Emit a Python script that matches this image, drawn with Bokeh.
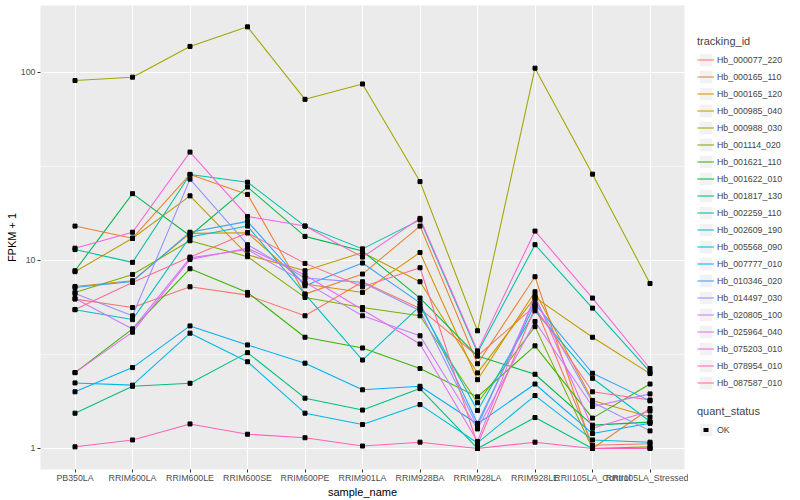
from bokeh.plotting import figure
from bokeh.models import Range1d, FixedTicker, Legend, LegendItem, PrintfTickFormatter
from bokeh.layouts import row
from bokeh.embed import file_html
from bokeh.resources import INLINE

samples = ["PB350LA", "RRIM600LA", "RRIM600LE", "RRIM600SE", "RRIM600PE", "RRIM901LA",
           "RRIM928BA", "RRIM928LA", "RRIM928LE", "RRII105LA_Control", "RRII105LA_Stressed"]

tracking_ids = ["Hb_000077_220", "Hb_000165_110", "Hb_000165_120", "Hb_000985_040",
                "Hb_000988_030", "Hb_001114_020", "Hb_001621_110", "Hb_001622_010",
                "Hb_001817_130", "Hb_002259_110", "Hb_002609_190", "Hb_005568_090",
                "Hb_007777_010", "Hb_010346_020", "Hb_014497_030", "Hb_020805_100",
                "Hb_025964_040", "Hb_075203_010", "Hb_078954_010", "Hb_087587_010"]

# FPKM + 1 per sample
hb_000077_220 = [6.22, 5.61, 7.23, 6.53, 5.07, 7.69, 5.54, 3.10, 5.73, 1.04, 1.06]
hb_000165_110 = [15.2, 13.1, 28.6, 22.4, 6.61, 8.45, 15.2, 2.82, 8.18, 1.00, 1.63]
hb_000165_120 = [7.26, 7.79, 13.9, 14.0, 7.48, 6.75, 11.0, 2.32, 6.80, 1.80, 1.47]
hb_000985_040 = [8.70, 13.1, 22.0, 10.7, 8.80, 11.0, 7.69, 2.52, 6.35, 3.90, 2.50]
hb_000988_030 = [90.2, 94.0, 137.0, 174.0, 71.7, 86.5, 26.2, 4.22, 105.0, 28.7, 7.53]
hb_001114_020 = [6.75, 8.41, 12.7, 10.45, 6.35, 5.61, 5.07, 1.75, 4.44, 1.00, 1.02]
hb_001621_110 = [2.53, 4.32, 9.02, 6.75, 3.90, 3.42, 2.66, 1.88, 3.51, 1.45, 2.20]
hb_001622_010 = [8.80, 22.6, 13.5, 24.5, 13.4, 11.2, 6.30, 3.10, 2.48, 1.33, 1.38]
hb_001817_130 = [1.54, 2.14, 2.22, 3.23, 1.85, 1.60, 2.08, 1.00, 1.46, 1.00, 1.00]
hb_002259_110 = [11.4, 9.75, 28.6, 26.0, 15.2, 11.5, 16.4, 3.23, 12.1, 5.57, 2.55]
hb_002609_190 = [5.46, 4.84, 13.3, 15.2, 6.61, 2.95, 5.71, 1.59, 5.39, 2.36, 1.39]
hb_005568_090 = [2.23, 2.17, 4.10, 2.89, 1.54, 1.34, 1.71, 1.07, 1.91, 1.11, 1.08]
hb_007777_010 = [2.00, 2.69, 4.48, 3.55, 2.84, 2.05, 2.14, 1.35, 2.20, 1.20, 1.36]
hb_010346_020 = [7.17, 7.72, 14.1, 16.1, 7.32, 9.67, 5.94, 1.36, 5.87, 2.51, 1.79]
hb_014497_030 = [6.66, 5.07, 27.0, 12.1, 8.05, 7.63, 5.39, 1.31, 6.22, 1.76, 1.24]
hb_020805_100 = [6.27, 4.31, 10.3, 11.4, 7.63, 5.07, 3.97, 1.27, 4.73, 1.67, 1.95]
hb_025964_040 = [2.53, 4.15, 10.1, 11.6, 8.35, 5.46, 3.59, 1.09, 6.48, 1.28, 1.58]
hb_075203_010 = [11.6, 14.1, 37.6, 17.1, 15.2, 10.4, 16.7, 3.30, 14.3, 6.30, 2.66]
hb_078954_010 = [1.02, 1.11, 1.35, 1.19, 1.14, 1.03, 1.08, 1.00, 1.08, 1.00, 1.00]
hb_087587_010 = [5.48, 7.63, 10.4, 14.0, 9.63, 7.23, 9.13, 1.045, 5.61, 2.00, 1.81]

series = [hb_000077_220, hb_000165_110, hb_000165_120, hb_000985_040, hb_000988_030,
          hb_001114_020, hb_001621_110, hb_001622_010, hb_001817_130, hb_002259_110,
          hb_002609_190, hb_005568_090, hb_007777_010, hb_010346_020, hb_014497_030,
          hb_020805_100, hb_025964_040, hb_075203_010, hb_078954_010, hb_087587_010]

colors = ["#F8766D", "#EA8331", "#D89000", "#C09B00", "#A3A500", "#7CAE00", "#39B600",
          "#00BB4E", "#00BF7D", "#00C1A3", "#00BFC4", "#00BAE0", "#00B0F6", "#35A2FF",
          "#9590FF", "#C77CFF", "#E76BF3", "#FA62DB", "#FF62BC", "#FF6C91"]

quant_status = ["OK"]
y_ticks = [1, 10, 100]

FONT = "Liberation Sans"
xs = list(range(1, len(samples) + 1))

p = figure(width=688, height=500, x_range=Range1d(0.4, 11.6), y_range=Range1d(0.773, 226),
           y_axis_type="log", output_backend="svg", toolbar_location=None,
           min_border_left=40, min_border_right=4, min_border_top=5, min_border_bottom=31,
           background_fill_color="#EBEBEB", border_fill_color="white", outline_line_color=None)

xticker = FixedTicker(ticks=xs)
yticker = FixedTicker(ticks=y_ticks, minor_ticks=[10 ** 0.5, 10 ** 1.5, 10 ** 2.5])
p.xaxis.ticker = xticker
p.yaxis.ticker = yticker
p.xgrid.ticker = xticker
p.ygrid.ticker = yticker
p.xaxis.major_label_overrides = {x: s for x, s in zip(xs, samples)}
p.yaxis.formatter = PrintfTickFormatter(format="%d")

for ax in (p.xaxis[0], p.yaxis[0]):
    ax.axis_line_color = None
    ax.major_tick_line_color = "#333333"
    ax.major_tick_in = 0
    ax.major_tick_out = 3
    ax.minor_tick_line_color = None
    ax.major_label_text_color = "#4D4D4D"
    ax.major_label_text_font = FONT
    ax.major_label_text_font_size = "8.8px"
    ax.major_label_standoff = 1
    ax.axis_label_text_font = FONT
    ax.axis_label_text_font_size = "11px"
    ax.axis_label_text_font_style = "normal"
    ax.axis_label_text_color = "black"
    ax.axis_label_standoff = 0
p.xaxis.major_label_standoff = 0
p.xaxis.axis_label = "sample_name"
p.yaxis.axis_label = "FPKM + 1"

p.xgrid.grid_line_color = "white"
p.xgrid.grid_line_width = 1.07
p.ygrid.grid_line_color = "white"
p.ygrid.grid_line_width = 1.07
p.ygrid.minor_grid_line_color = "white"
p.ygrid.minor_grid_line_width = 0.53

for vals, c in zip(series, colors):
    p.line(xs, vals, line_color=c, line_width=1.07)
for vals in series:
    p.scatter(xs, vals, marker="square", size=4, color="black")

# legend panel (its renderers hold one point outside the visible range)
p2 = figure(width=112, height=500, output_backend="svg", toolbar_location=None,
            x_axis_location=None, y_axis_location=None, min_border=0,
            outline_line_color=None, x_range=Range1d(0, 1), y_range=Range1d(0, 1))
p2.grid.visible = False

items = []
for tid, c in zip(tracking_ids, colors):
    bg = p2.quad(left=[5], right=[6], top=[6], bottom=[5], fill_color="#F2F2F2",
                 line_color="white", line_width=1)
    ln = p2.line(x=[5, 6], y=[5, 5], line_color=c, line_width=1.07)
    items.append(LegendItem(label=tid, renderers=[bg, ln]))

bg2 = p2.quad(left=[5], right=[6], top=[6], bottom=[5], fill_color="#F2F2F2",
              line_color="white", line_width=1)
# small centred black square key for the point layer
pt = p2.line(x=[5, 6], y=[5, 5], line_color="black", line_width=4, line_dash="0 6 5 6")
items2 = [LegendItem(label=quant_status[0], renderers=[bg2, pt])]

def style(lg):
    lg.label_text_font = FONT
    lg.label_text_font_size = "8.8px"
    lg.title_text_font = FONT
    lg.title_text_font_size = "11px"
    lg.title_text_font_style = "normal"
    lg.glyph_width = 17
    lg.glyph_height = 17
    lg.label_height = 17
    lg.spacing = 0
    lg.label_standoff = 3
    lg.padding = 0
    lg.margin = 0
    lg.title_standoff = 4
    lg.border_line_color = None
    lg.background_fill_alpha = 0

legend1 = Legend(items=items, title="tracking_id", location=(9, 78))
legend2 = Legend(items=items2, title="quant_status", location=(9, 31))
style(legend1)
style(legend2)
p2.add_layout(legend1)
p2.add_layout(legend2)

layout = row(p, p2)
open("out.html", "w").write(file_html(layout, INLINE))
